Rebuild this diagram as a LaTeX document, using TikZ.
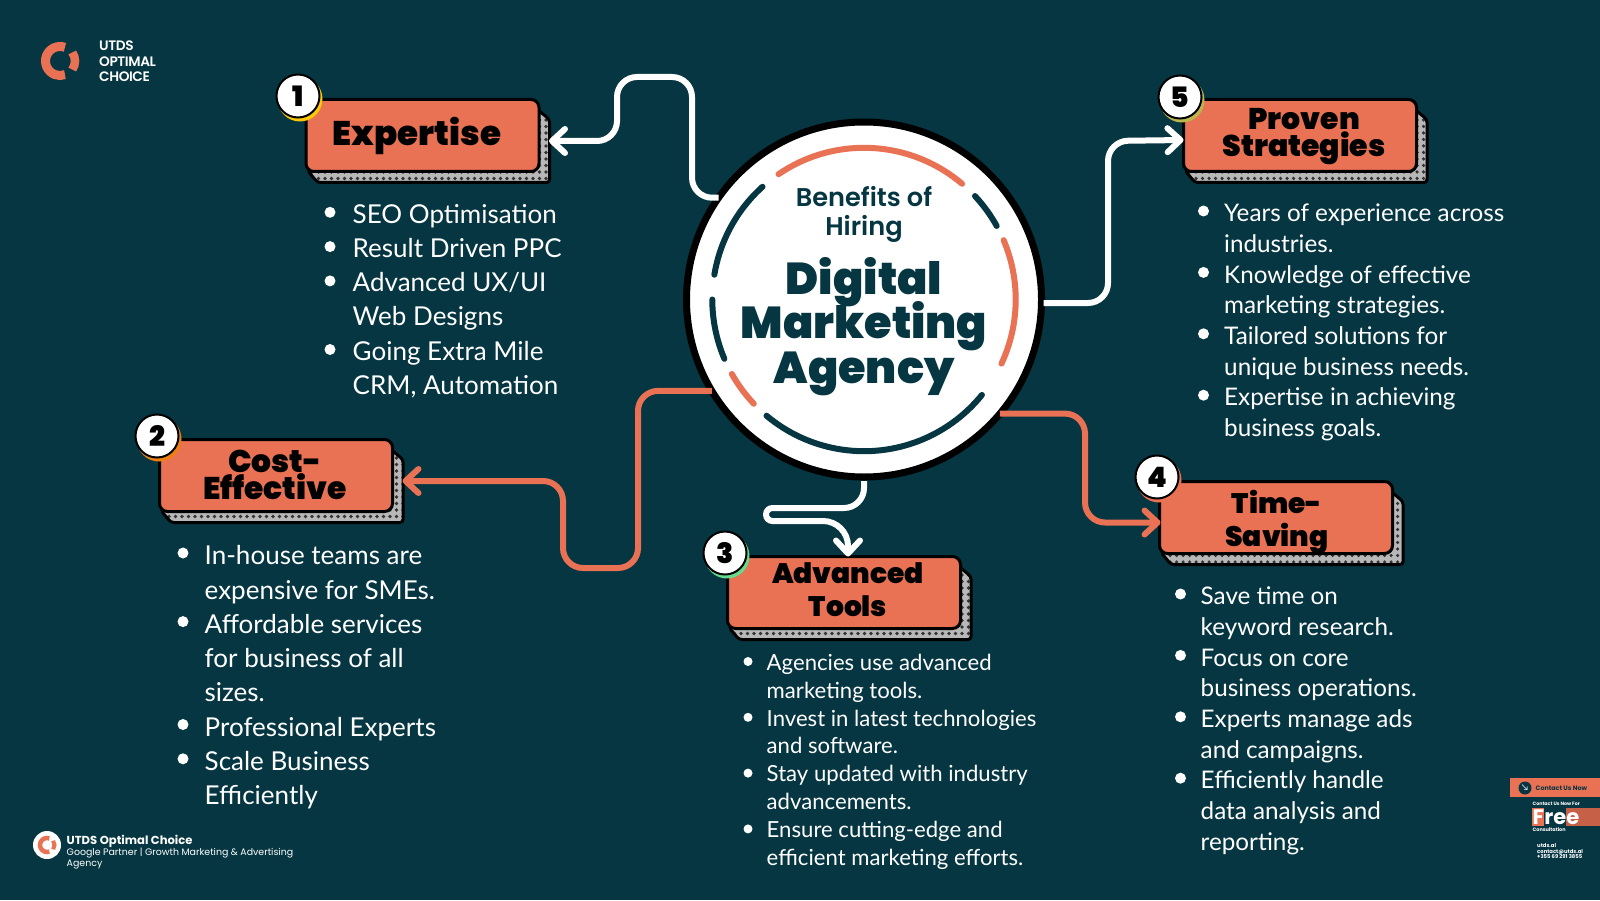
\documentclass[tikz,border=0pt]{standalone}
\usepackage{fontspec}
\usepackage{xcolor}
\usetikzlibrary{calc,arrows.meta,patterns.meta}
\setmainfont{Lato}
\newfontfamily\popfont{Poppins}
\newfontfamily\popsemi{Poppins SemiBold}
\newfontfamily\poptight{Poppins SemiBold}[LetterSpace=-3]
\newfontfamily\headfont{Poppins Black}
\definecolor{deepteal}{RGB}{5,54,66}
\definecolor{cardorange}{RGB}{233,113,84}
\newcommand{\headset}[2]{\headfont\fontsize{#1}{#2}\selectfont\lineskiplimit=-20pt\relax}

\begin{document}
\begin{tikzpicture}[x=1cm,y=1cm]
  \tikzset{
    card/.style={draw=black,fill=cardorange,line width=0.03cm,rounded corners=0.08cm,minimum width=2.33cm,minimum height=0.72cm,inner sep=0pt,outer sep=0pt},
    dotband/.style={draw=black,line width=0.03cm,rounded corners=0.03cm,preaction={fill=black!28},pattern={Dots[distance=0.065cm,radius=0.018cm]},pattern color=black!80},
    badge/.style={circle,draw=black,fill=white,line width=0.02cm,minimum size=0.43cm,inner sep=0pt,font=\headset{8}{8}},
    headtxt/.style={align=center,inner sep=0pt},
    hub/.style={circle,draw=black,fill=white,line width=0.07cm,minimum size=3.55cm,inner sep=0pt,outer sep=0pt},
    ringpart/.style={line width=0.06cm,line cap=round},
    wire/.style={line width=0.06cm,rounded corners=0.2cm,-{Straight Barb[round,length=1.3mm,width=2.4mm]}},
    dot/.style={circle,fill=white,minimum size=0.11cm,inner sep=0pt},
    itembig/.style={anchor=north west,align=left,inner sep=0pt,text=white,font=\fontsize{7.4}{9.76}\selectfont},
    itemmid/.style={anchor=north west,align=left,inner sep=0pt,text=white,font=\fontsize{6.9}{8.73}\selectfont},
    itemsmall/.style={anchor=north west,align=left,inner sep=0pt,text=white,font=\fontsize{6.3}{7.94}\selectfont},
    logoarc/.style={draw=cardorange,line cap=butt},
  }
  \useasboundingbox[fill=deepteal] (0,0) rectangle (16,9);

  % logo top left
  \coordinate (logoa) at (0.60,8.39);
  \draw[logoarc,line width=0.09cm] ($(logoa)+(70:0.145)$) arc (70:290:0.145);
  \draw[logoarc,line width=0.085cm] ($(logoa)+(35:0.15)$) arc (35:-35:0.15);
  \node[anchor=north west,align=left,inner sep=0pt,text=white,font=\poptight\fontsize{3.9}{4.45}\selectfont] (logotxt) at (0.985,8.60) {UTDS\\OPTIMAL\\CHOICE};

  % center
  \node[hub] (centre) at (8.64,6.005) {};
  \draw[ringpart,cardorange] ($(centre)+(49.7:1.517)$) arc (49.7:124.3:1.517);
  \draw[ringpart,deepteal] ($(centre)+(29:1.517)$) arc (29:43:1.517);
  \draw[ringpart,cardorange] ($(centre)+(-25:1.517)$) arc (-25:23:1.517);
  \draw[ringpart,deepteal] ($(centre)+(-130:1.517)$) arc (-130:-39:1.517);
  \draw[ringpart,cardorange] ($(centre)+(209.4:1.517)$) arc (209.4:223.4:1.517);
  \draw[ringpart,deepteal] ($(centre)+(180:1.517)$) arc (180:203:1.517);
  \draw[ringpart,deepteal] ($(centre)+(132:1.517)$) arc (132:170.6:1.517);
  \node[align=center,inner sep=0pt,text=deepteal,font=\popsemi\fontsize{7.3}{8.5}\selectfont] (benefits) at (8.64,6.855) {Benefits of\\Hiring};
  \node[align=center,inner sep=0pt,text=deepteal,font=\headset{12.7}{12.66}] (agency) at (8.64,5.735) {Digital\\Marketing\\Agency};

  % cards
  \foreach \bname/\bx/\by/\nx/\ny/\tint/\num in {
      expert/4.225/7.645/2.98/8.04/yellow!60!orange/1,
      cost/2.76/4.245/1.57/4.64/orange!70!brown/2,
      tools/8.44/3.075/7.25/3.47/teal!50!green!60!white/3,
      saving/12.76/3.825/11.57/4.23/cardorange/4,
      proven/13.00/7.645/11.80/8.03/olive!60!white/5} {
    \begin{scope}[shift={(\bx,\by)}]
      \draw[dotband] (1.15,0.26) -- (1.27,0.16) -- (1.27,-0.47) -- (-1.05,-0.47) -- (-1.15,-0.35) -- cycle;
      \node[card] (\bname) at (0,0) {};
    \end{scope}
    \fill[\tint] (\nx+0.02,\ny-0.03) circle (0.225);
    \node[badge] (\bname-no) at (\nx,\ny) {\num};
  }
  \node[headtxt,font=\headset{9.7}{9.7}] (expert-head) at (4.17,7.64) {Expertise};
  \node[headtxt,font=\headset{8.9}{7.7}] (cost-head) at (2.75,4.25) {Cost-\\Effective};
  \node[headtxt,font=\headset{8}{9.4}] (tools-head) at (8.48,3.10) {Advanced\\Tools};
  \node[headtxt,font=\headset{8}{9.4}] (saving-head) at (12.77,3.78) {Time-\\Saving};
  \node[headtxt,font=\headset{8.5}{7.7}] (proven-head) at (13.04,7.63) {Proven\\Strategies};

  % connectors
  \draw[wire,white] (centre.145) -- (6.92,7.023) -- (6.92,8.23) -- (6.17,8.23) -- (6.17,7.59) -- ([yshift=-0.055cm,xshift=0.10cm]expert.east);
  \draw[wire,white,shorten <=0.02cm] (centre.east) ++(0,-0.035) -- (11.08,5.97) -- (11.08,7.59) -- ([yshift=-0.045cm]proven.west);
  \draw[wire,cardorange] (centre.320) -- (10.85,4.864) -- (10.85,3.775) -- ([yshift=-0.05cm,xshift=0.01cm]saving.west);
  \draw[wire,cardorange] (centre.211) -- (6.38,5.091) -- (6.38,3.32) -- (5.63,3.32) -- (5.63,4.19) -- ([yshift=-0.055cm,xshift=0.10cm]cost.east);
  \draw[wire,white,shorten <=0.04cm] (centre.south) -- (8.64,3.92) [rounded corners=0.065cm] -- (7.66,3.92) -- (7.66,3.79) [rounded corners=0.25cm] -- (8.48,3.79) -- ([xshift=0.04cm]tools.north);

  % lists
  \foreach \rowno/\txt in {0/{SEO Optimisation},1/{Result Driven PPC},2/{Advanced UX/UI\\Web Designs},4/{Going Extra Mile\\CRM, Automation}} {
    \node[itembig] (lista-\rowno) at (3.52,{7.017-\rowno*0.343}) {\strut\txt};
    \node[dot] (dota-\rowno) at ($(lista-\rowno.north west)+(-0.22,-0.14)$) {};
  }
  \foreach \rowno/\txt in {0/{In-house teams are\\expensive for SMEs.},2/{Affordable services\\for business of all\\sizes.},5/{Professional Experts},6/{Scale Business\\Efficiently}} {
    \node[itembig] (listb-\rowno) at (2.04,{3.60-\rowno*0.343}) {\strut\txt};
    \node[dot] (dotb-\rowno) at ($(listb-\rowno.north west)+(-0.21,-0.13)$) {};
  }
  \foreach \rowno/\txt in {0/{Agencies use advanced\\marketing tools.},2/{Invest in latest technologies\\and software.},4/{Stay updated with industry\\advancements.},6/{Ensure cutting-edge and\\efficient marketing efforts.}} {
    \node[itemsmall] (listc-\rowno) at (7.66,{2.50-\rowno*0.279}) {\strut\txt};
    \node[dot,minimum size=0.09cm] (dotc-\rowno) at ($(listc-\rowno.north west)+(-0.18,-0.115)$) {};
  }
  \foreach \rowno/\txt in {0/{Save time on\\keyword research.},2/{Focus on core\\business operations.},4/{Experts manage ads\\and campaigns.},6/{Efficiently handle\\data analysis and\\reporting.}} {
    \node[itemmid] (listd-\rowno) at (12.00,{3.175-\rowno*0.307}) {\strut\txt};
    \node[dot] (dotd-\rowno) at ($(listd-\rowno.north west)+(-0.195,-0.115)$) {};
  }
  \foreach \rowno/\txt in {0/{Years of experience across\\industries.},2/{Knowledge of effective\\marketing strategies.},4/{Tailored solutions for\\unique business needs.},6/{Expertise in achieving\\business goals.}} {
    \node[itemmid] (liste-\rowno) at (12.235,{7.005-\rowno*0.307}) {\strut\txt};
    \node[dot] (dote-\rowno) at ($(liste-\rowno.north west)+(-0.20,-0.115)$) {};
  }

  % footer left
  \node[circle,fill=white,minimum size=0.28cm,inner sep=0pt] (minilogo) at (0.47,0.55) {};
  \draw[logoarc,line width=0.045cm] ($(minilogo)+(70:0.07)$) arc (70:290:0.07);
  \draw[logoarc,line width=0.04cm] ($(minilogo)+(35:0.075)$) arc (35:-35:0.075);
  \node[anchor=base west,inner sep=0pt,text=white,font=\popfont\bfseries\fontsize{3.3}{4}\selectfont] (agencyname) at (0.66,0.555) {UTDS Optimal Choice};
  \node[anchor=north west,align=left,inner sep=0pt,text=white,font=\popfont\fontsize{2.68}{3.2}\selectfont] (agencyline) at (0.66,0.525) {Google Partner | Growth Marketing \& Advertising\\Agency};

  % footer right
  \fill[cardorange] (15.10,1.03) rectangle (16,1.22);
  \fill[cardorange] (15.32,0.74) rectangle (15.44,0.92);
  \fill[cardorange!85!black] (15.66,0.74) rectangle (16,0.92);
  \node[circle,fill=deepteal,minimum size=0.13cm,inner sep=0pt,text=white,font=\fontsize{2.5}{3}\selectfont] (callbtn) at (15.25,1.12) {\char"2198};
  \node[anchor=west,inner sep=0pt,text=deepteal,font=\popfont\bfseries\fontsize{1.8}{2.4}\selectfont] (calltxt) at (15.35,1.12) {Contact Us Now};
  \node[anchor=west,inner sep=0pt,text=white,font=\popfont\bfseries\fontsize{1.35}{2}\selectfont] (callfor) at (15.32,0.96) {Contact Us Now For};
  \node[anchor=base west,inner sep=0pt,text=white,font=\popfont\bfseries\fontsize{6}{6}\selectfont] (freetxt) at (15.32,0.76) {Free};
  \node[anchor=west,inner sep=0pt,text=white,font=\popfont\bfseries\fontsize{1.4}{2}\selectfont] (callcons) at (15.32,0.70) {Consultation};
  \node[anchor=north west,align=left,inner sep=0pt,text=white,font=\popfont\bfseries\fontsize{1.5}{1.6}\selectfont] (callinfo) at (15.365,0.57) {utds.al\\contact@utds.al\\+355 69 291 3855};
\end{tikzpicture}
\end{document}
